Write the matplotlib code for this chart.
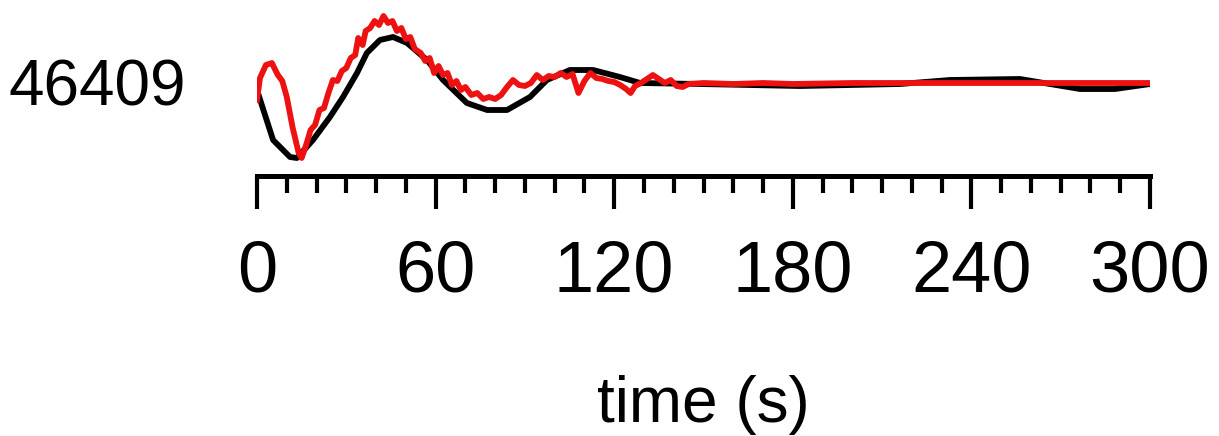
import matplotlib
matplotlib.use("Agg")
import matplotlib.pyplot as plt
import matplotlib.ticker as mticker

plt.rcParams["font.family"] = ["Liberation Sans", "DejaVu Sans"]

SERIES_LABEL = "46409"
X_LABEL = "time (s)"
X_TICKS = [0, 60, 120, 180, 240, 300]

# black trace (time in s, response)
black_t = [0, 5.4, 11.1, 13.4, 18.8, 24.5, 28.9, 33.6, 36.9, 41.3, 45.7, 50.4,
           57.1, 62.5, 70.5, 77.3, 84.0, 91.7, 97.4, 105.1, 112.9, 121.9, 128.7,
           148.8, 182.4, 216.0, 232.8, 256.3, 266.4, 276.5, 288.2, 300]
black_v = [-7, -57, -74, -75, -57, -34, -14, 10, 30, 43, 46, 40,
           23, 3, -20, -27, -27, -14, 3, 13, 13, 6, 0,
           -1, -3, -1, 3, 4, -1, -6, -6, -1]

# red trace
red_t = [0, 1, 3, 5, 7, 8.5, 10, 12, 14, 15, 16.5, 18, 19.5, 21, 22.5, 24, 25.5,
         27, 28.5, 30, 31.5, 33, 34, 35.5, 36.5, 38, 39.5, 41, 42.5, 44, 45.5,
         47, 48.5, 50, 51.5, 53, 55, 56.5, 58, 59.5, 61, 62.5, 64, 65.5, 67,
         68.5, 70, 72, 74, 76, 78, 80, 82, 84, 86, 88, 90, 92, 94, 96, 98, 100,
         102, 104, 106, 108, 110, 112, 114, 116, 118, 120, 122, 124, 125.5, 127,
         129, 131, 133, 135, 137, 139, 141, 143, 145, 150, 160, 170, 180, 200,
         220, 240, 260, 280, 300]
red_v = [-17, 5, 18, 20, 8, 2, -14, -45, -70, -75, -62, -47, -42, -27, -25, -10, 3,
         2, 12, 15, 25, 28, 45, 38, 52, 55, 62, 58, 67, 60, 62,
         52, 55, 44, 46, 34, 30, 22, 25, 10, 17, 8, 10, -2, 2,
         -7, -4, -12, -10, -16, -14, -16, -12, -4, 3, -2, -3, 0, 8, 3, 7, 6,
         10, 6, 9, -10, 2, 10, 5, 4, 2, 1, -2, -6, -10, -3,
         0, 4, 8, 4, 0, 3, -3, -4, -1, 0, -1, 0, -1, 0,
         0, 0, 0, 0, 0]

fig = plt.figure(figsize=(12.19, 4.36), dpi=100)
ax = fig.add_axes([257 / 1219, 1 - 176 / 436, 893 / 1219, 166 / 436])

ax.plot(black_t, black_v, color="black", lw=4.2, solid_joinstyle="round")
ax.plot(red_t, red_v, color="#ee1111", lw=4.2, solid_joinstyle="round")

ax.set_xlim(0, 300)
ax.set_ylim(-93, 73)

for side in ("top", "right", "left"):
    ax.spines[side].set_visible(False)
ax.spines["bottom"].set_linewidth(3.6)
ax.spines["bottom"].set_capstyle("projecting")
ax.set_yticks([])

ax.xaxis.set_major_locator(mticker.FixedLocator(X_TICKS))
ax.xaxis.set_minor_locator(mticker.MultipleLocator(10))
ax.tick_params(axis="x", which="major", length=24, width=3, labelsize=52, pad=22)
ax.tick_params(axis="x", which="minor", length=12, width=3)

fig.text(97 / 1219, 1 - 88 / 436, SERIES_LABEL, fontsize=46, ha="center", va="center")
fig.text(703 / 1219, 1 - 405 / 436, X_LABEL, fontsize=46, ha="center", va="center")

fig.savefig("out.png", dpi=100)
plt.close(fig)
